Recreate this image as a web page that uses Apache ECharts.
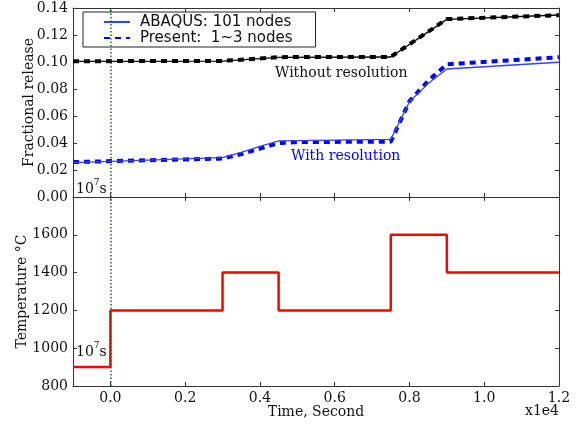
<!DOCTYPE html>
<html><head><meta charset="utf-8">
<script src="https://cdn.jsdelivr.net/npm/echarts@6/dist/echarts.min.js"></script>
<style>html,body{margin:0;padding:0;background:#fff}#c{width:579px;height:427px}</style>
</head><body><div id="c"></div>
<script>
// Time in seconds (axis shown in units of 1e4 s)
const timeTicks = [0, 2000, 4000, 6000, 8000, 10000, 12000];
const timeTickLabels = ['0.0', '0.2', '0.4', '0.6', '0.8', '1.0', '1.2'];
const releaseTicks = [0, 0.02, 0.04, 0.06, 0.08, 0.10, 0.12, 0.14];
const tempTicks = [800, 1000, 1200, 1400, 1600];

const abaqusWith = [[-1000,0.0255],[3000,0.0291],[3500,0.0330],[4000,0.0375],[4500,0.0415],[7500,0.0427],[8000,0.0706],[8500,0.0840],[9000,0.0948],[12000,0.0998]];
const presentWith = [[-1000,0.0259],[3000,0.0285],[3500,0.0318],[4000,0.0358],[4500,0.0400],[5000,0.0407],[7500,0.0410],[8000,0.0710],[8500,0.0860],[9000,0.0983],[12000,0.1035]];
const abaqusWithout = [[-1000,0.1005],[3000,0.1007],[4500,0.1035],[7500,0.1037],[9000,0.1316],[12000,0.1348]];
const presentWithout = [[-1000,0.1006],[3000,0.1008],[4500,0.1036],[7500,0.1038],[9000,0.1318],[12000,0.1347]];
const temperature = [[-1000,900],[0,1200],[3000,1400],[4500,1200],[7500,1600],[9000,1400],[12000,1400]];

const serif = 'DejaVu Serif';
const axisCol = '#333';
const chart = echarts.init(document.getElementById('c'));

function xAx(grid, pos, labels) {
  return {
    type: 'value', gridIndex: grid, position: pos, min: -1000, max: 12000,
    splitLine: {show: false},
    axisLine: {show: true, onZero: false, lineStyle: {color: axisCol, width: 1}},
    axisTick: {show: true, inside: true, length: 4, customValues: timeTicks, lineStyle: {color: axisCol}},
    axisLabel: {show: labels, customValues: timeTicks, margin: 5,
      formatter: v => timeTickLabels[timeTicks.indexOf(v)] ?? '',
      color: '#111', fontFamily: serif, fontSize: 14},
    ...(labels ? {name: 'Time, Second', nameLocation: 'middle', nameGap: 19, nameMoveOverlap: false,
      nameTextStyle: {fontFamily: serif, fontSize: 14, color: '#111', verticalAlign: 'top'}} : {})
  };
}
function yAx(grid, pos, min, max, ticks, labels, fmt, name, gap) {
  return {
    type: 'value', gridIndex: grid, position: pos, min: min, max: max,
    splitLine: {show: false},
    axisLine: {show: true, onZero: false, lineStyle: {color: axisCol, width: 1}},
    axisTick: {show: true, inside: true, length: 4, customValues: ticks, lineStyle: {color: axisCol}},
    axisLabel: {show: labels, customValues: ticks, margin: 5, formatter: fmt,
      color: '#111', fontFamily: serif, fontSize: 14},
    ...(name ? {name: name, nameLocation: 'middle', nameGap: gap, nameRotate: 90, nameMoveOverlap: false,
      nameTextStyle: {fontFamily: serif, fontSize: 14, color: '#111'}} : {})
  };
}

const vline = {silent: true, symbol: 'none', label: {show: false},
  lineStyle: {color: '#008000', type: [1.5, 2], width: 1.5}, data: [{xAxis: 0}]};

chart.setOption({
  animation: false,
  backgroundColor: '#fff',
  grid: [
    {left: 73, top: 8, width: 486, height: 189},
    {left: 73, top: 197, width: 486, height: 189}
  ],
  xAxis: [xAx(0, 'bottom', false), xAx(0, 'top', false), xAx(1, 'bottom', true), xAx(1, 'top', false)],
  yAxis: [
    yAx(0, 'left', 0, 0.14, releaseTicks, true, v => v.toFixed(2), 'Fractional release', 37),
    yAx(0, 'right', 0, 0.14, releaseTicks, false),
    yAx(1, 'left', 800, 1800, tempTicks, true, v => String(v), 'Temperature °C', 44),
    yAx(1, 'right', 800, 1800, tempTicks, false)
  ],
  legend: {
    data: ['ABAQUS: 101 nodes', 'Present:  1~3 nodes'],
    orient: 'vertical', left: 83, top: 12,
    padding: [2, 23, 1, 20], itemGap: 0, itemWidth: 26, itemHeight: 15,
    itemStyle: {opacity: 0, color: 'rgba(0,0,0,0)', borderWidth: 0},
    borderColor: '#222', borderWidth: 1, backgroundColor: '#fff',
    textStyle: {fontFamily: 'DejaVu Sans', fontSize: 15, color: '#111', lineHeight: 16, padding: [0, 0, 0, 5]},
    selectedMode: false
  },
  series: [
    {name: 'ABAQUS without', type: 'line', xAxisIndex: 0, yAxisIndex: 0, data: abaqusWithout,
      symbol: 'none', lineStyle: {color: '#000', width: 1.3}, z: 3},
    {name: 'Present without', type: 'line', xAxisIndex: 0, yAxisIndex: 0, data: presentWithout,
      symbol: 'none', lineStyle: {color: '#000', width: 4, type: [6, 5]}, z: 2},
    {name: 'ABAQUS: 101 nodes', type: 'line', xAxisIndex: 0, yAxisIndex: 0, data: abaqusWith,
      symbol: 'none', itemStyle: {color: '#3344ee'}, lineStyle: {color: '#3344ee', width: 1.3}, z: 3,
      markLine: vline},
    {name: 'Present:  1~3 nodes', type: 'line', xAxisIndex: 0, yAxisIndex: 0, data: presentWith,
      symbol: 'none', itemStyle: {color: '#0000ff'}, lineStyle: {color: '#0000ff', width: 4, type: [6, 5]}, z: 2},
    {name: 'Temperature', type: 'line', xAxisIndex: 2, yAxisIndex: 2, data: temperature, step: 'end',
      symbol: 'none', lineStyle: {color: '#ff0000', width: 2.5}, z: 3, markLine: vline}
  ],
  graphic: [
    {type: 'text', left: 275, top: 66, style: {text: 'Without resolution', font: '14px "DejaVu Serif"', fill: '#111'}},
    {type: 'text', left: 291, top: 149, style: {text: 'With resolution', font: '14px "DejaVu Serif"', fill: '#0000ff'}},
    {type: 'text', left: 76, top: 178, style: {text: '{a|10}{b|7}{a|s}', rich: {
      a: {fontFamily: serif, fontSize: 14, fill: '#111', verticalAlign: 'bottom', lineHeight: 18},
      b: {fontFamily: serif, fontSize: 9, fill: '#111', verticalAlign: 'top', lineHeight: 18}}}},
    {type: 'text', left: 76, top: 341, style: {text: '{a|10}{b|7}{a|s}', rich: {
      a: {fontFamily: serif, fontSize: 14, fill: '#111', verticalAlign: 'bottom', lineHeight: 18},
      b: {fontFamily: serif, fontSize: 9, fill: '#111', verticalAlign: 'top', lineHeight: 18}}}},
    {type: 'text', right: 20, top: 404, style: {text: 'x1e4', font: '14px "DejaVu Serif"', fill: '#111'}}
  ]
});
</script></body></html>
